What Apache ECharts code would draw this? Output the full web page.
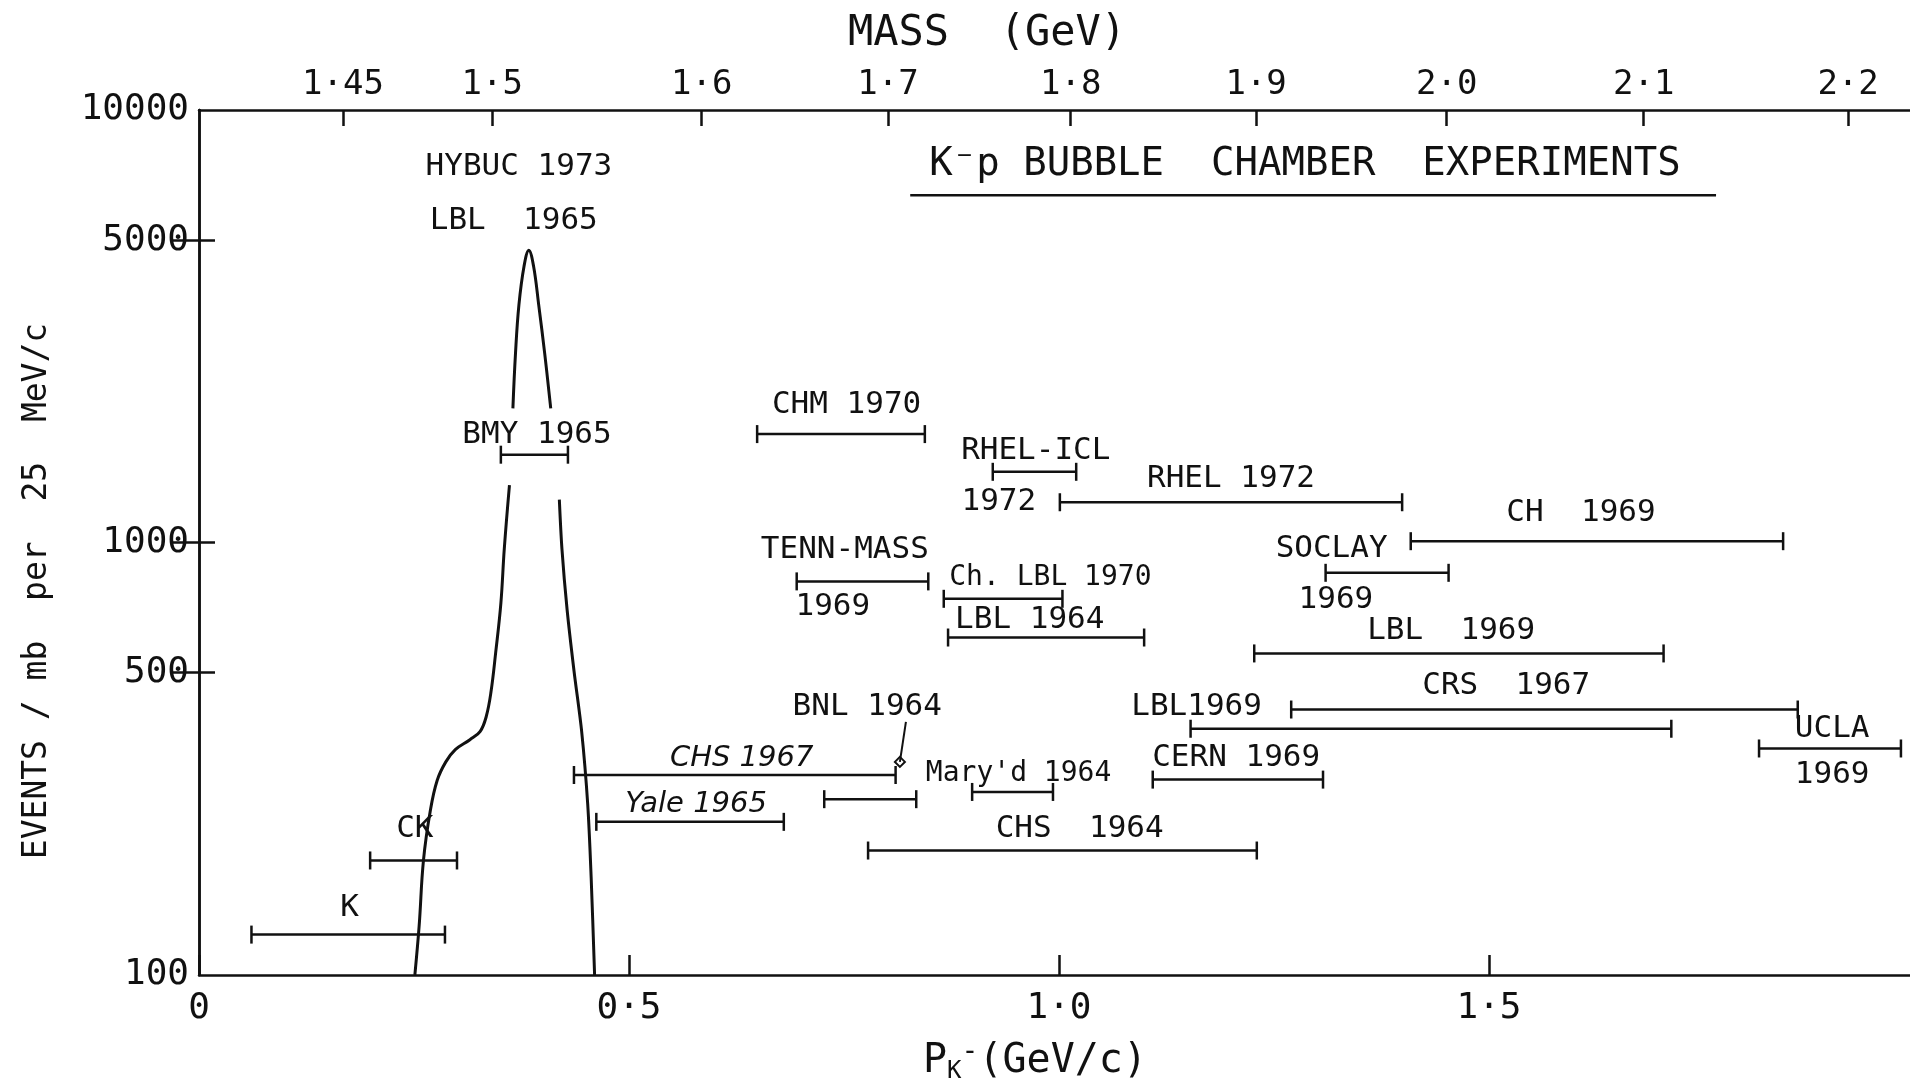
<!DOCTYPE html>
<html>
<head>
<meta charset="utf-8">
<script src="https://cdn.jsdelivr.net/npm/echarts@6/dist/echarts.min.js"></script>
<style>
  html, body { margin: 0; padding: 0; background: #fff; }
  #chart { width: 1910px; height: 1091px; }
</style>
</head>
<body>
<div id="chart"></div>
<script>
// momentum coverage of each K-p bubble chamber experiment (GeV/c) and its plotted height
const expNames = ['K', 'CK', 'BMY 1965', 'CHM 1970', 'RHEL-ICL 1972', 'RHEL 1972', 'CH 1969',
  'TENN-MASS 1969', 'SOCLAY 1969', 'Ch. LBL 1970', 'LBL 1964', 'LBL 1969 (a)', 'CRS 1967',
  'LBL 1969', 'UCLA 1969', 'CERN 1969', 'CHS 1967', 'BNL 1964', 'Yale 1965', "Mary'd 1964", 'CHS 1964']
const pLow  = [0.061, 0.199, 0.351, 0.649, 0.923, 1.001, 1.409, 0.695, 1.310, 0.866, 0.871, 1.227,
  1.270, 1.153, 1.814, 1.109, 0.436, 0.727, 0.462, 0.899, 0.778]
const pHigh = [0.286, 0.300, 0.429, 0.844, 1.020, 1.399, 1.842, 0.848, 1.453, 1.004, 1.099, 1.703,
  1.859, 1.712, 1.979, 1.307, 0.810, 0.834, 0.680, 0.993, 1.230]
const barEvents = [124, 184, 1596, 1781, 1457, 1239, 1007, 813, 851, 741, 603, 554,
  411, 371, 334, 283, 290, 255, 226, 265, 194]

// total cross-section curve (events / mb per 25 MeV/c)
const leftP   = [0.251, 0.256, 0.261, 0.269, 0.277, 0.287, 0.298, 0.315, 0.327, 0.334, 0.3395, 0.345, 0.351, 0.355, 0.361]
const leftEv  = [100, 130, 184, 240, 282, 311, 332, 350, 366, 396, 451, 557, 723, 968, 1357]
const topP    = [0.365, 0.368, 0.372, 0.378, 0.3835, 0.389, 0.395, 0.402, 0.409]
const topEv   = [2042, 2733, 3543, 4359, 4740, 4359, 3543, 2733, 2042]
const rightP  = [0.419, 0.422, 0.428, 0.436, 0.445, 0.452, 0.456, 0.460]
const rightEv = [1256, 968, 700, 506, 365, 248, 168, 100]

// lettered annotations, placed in data space
const noteTexts = ['K', 'CK', 'BMY 1965', 'HYBUC 1973', 'LBL  1965', 'CHM 1970', 'RHEL-ICL', '1972',
  'RHEL 1972', 'CH  1969', 'TENN-MASS', '1969', 'SOCLAY', '1969', 'Ch. LBL 1970', 'LBL 1964',
  'LBL  1969', 'CRS  1967', 'LBL1969', 'UCLA', '1969', 'CERN 1969', 'BNL 1964',
  "Mary'd 1964", 'CHS  1964']
const noteP  = [0.175, 0.251, 0.393, 0.372, 0.366, 0.753, 0.973, 0.930, 1.200, 1.607, 0.751, 0.737,
  1.317, 1.322, 0.990, 0.966, 1.456, 1.520, 1.160, 1.899, 1.899, 1.206, 0.777, 0.953, 1.024]
const noteEv = [143, 218, 1770, 7380, 5546, 2081, 1627, 1239, 1400, 1169, 962, 710, 968, 738, 828,
  661, 623, 465, 417, 371, 290, 317, 417, 292, 218]
// handwritten annotations
const handTexts = ['CHS 1967', 'Yale 1965']
const handP  = [0.631, 0.578]
const handEv = [317, 248]

const headerText = 'K\u207Bp BUBBLE  CHAMBER  EXPERIMENTS'
const headerP = 1.286, headerEv = 7470
const headerRule = [0.827, 1.764], headerRuleEv = 6350
const bnlPointer = [[0.822, 385], [0.815, 311]]

// top axis: invariant mass of K-p
const massTicks = [1.45, 1.5, 1.6, 1.7, 1.8, 1.9, 2.0, 2.1, 2.2]
const massLabels = ['1·45', '1·5', '1·6', '1·7', '1·8', '1·9', '2·0', '2·1', '2·2']
const bottomLabels = { 0: '0', 0.5: '0·5', 1: '1·0', 1.5: '1·5', 2: '2' }
const yLabelValues = [100, 500, 1000, 5000, 10000]
const yTickValues = [500, 1000, 5000]

const mK = 0.4937, mP = 0.9383
function massToP(m) {
  const e = (m * m - mK * mK - mP * mP) / (2 * mP)
  return Math.sqrt(e * e - mK * mK)
}
const massP = massTicks.map(massToP)

const font = 'DejaVu Sans Mono'
const ink = '#111'
const stroke = { color: ink, width: 2.5 }
const smallNotes = ['Ch. LBL 1970', "Mary'd 1964"]

const chart = echarts.init(document.getElementById('chart'))
chart.setOption({
  backgroundColor: '#fff',
  animation: false,
  textStyle: { fontFamily: font, color: ink },
  grid: { left: 199, top: 110, width: 1720, height: 865, containLabel: false, outerBoundsMode: 'none' },
  graphic: [{
    type: 'text', x: 37, y: 591, rotation: Math.PI / 2,
    style: { text: 'EVENTS / mb  per  25  MeV/c', font: '33px "DejaVu Sans Mono"', fill: ink,
      textAlign: 'center', textVerticalAlign: 'middle' }
  }, {
    type: 'text', x: 987, y: 34,
    style: { text: 'MASS  (GeV)', font: '42px "DejaVu Sans Mono"', fill: ink,
      textAlign: 'center', textVerticalAlign: 'middle' }
  }, {
    type: 'text', x: 1035, y: 1062,
    style: {
      text: '{p|P}{k|K}{m|-}{p|(GeV/c)}', textAlign: 'center', textVerticalAlign: 'middle',
      rich: {
        p: { fontSize: 40, fontFamily: font, fill: ink },
        k: { fontSize: 24, fontFamily: font, fill: ink, padding: [20, 0, 0, 0] },
        m: { fontSize: 28, fontFamily: font, fill: ink, padding: [0, 0, 18, 0] }
      }
    }
  }],
  xAxis: [{
    type: 'value', min: 0, max: 2, interval: 0.5, position: 'bottom',
    axisLine: { lineStyle: stroke },
    axisTick: { inside: true, length: 20, lineStyle: stroke },
    axisLabel: { fontSize: 36, color: ink, margin: 16, formatter: v => bottomLabels[v] ?? '' },
    splitLine: { show: false }
  }, {
    type: 'value', min: 0, max: 2, position: 'top',
    axisLine: { lineStyle: stroke },
    axisTick: { inside: true, length: 16, customValues: massP, lineStyle: stroke },
    axisLabel: { fontSize: 34, color: ink, margin: 8, customValues: massP,
      formatter: v => massLabels[massP.findIndex(p => Math.abs(p - v) < 1e-6)] ?? '' },
    splitLine: { show: false }
  }],
  yAxis: [{
    type: 'log', logBase: 10, min: 100, max: 10000,
    axisLine: { lineStyle: stroke },
    axisTick: { inside: true, length: 16, customValues: yTickValues, lineStyle: stroke },
    axisLabel: { fontSize: 36, color: ink, margin: 10, customValues: yLabelValues, formatter: v => String(v) },
    splitLine: { show: false }
  }, {
    type: 'log', logBase: 10, min: 100, max: 10000, position: 'right',
    axisLine: { show: true, lineStyle: stroke },
    axisTick: { show: true, inside: true, length: 26, customValues: yTickValues, lineStyle: stroke },
    axisLabel: { show: false },
    splitLine: { show: false }
  }],
  series: [
    {
      type: 'custom', name: 'experiments',
      data: expNames.map((n, i) => [pLow[i], pHigh[i], barEvents[i], n]),
      renderItem(params, api) {
        const a = api.coord([api.value(0), api.value(2)])
        const b = api.coord([api.value(1), api.value(2)])
        const h = 9
        const st = { stroke: ink, lineWidth: 2.5 }
        return { type: 'group', children: [
          { type: 'line', shape: { x1: a[0], y1: a[1], x2: b[0], y2: b[1] }, style: st },
          { type: 'line', shape: { x1: a[0], y1: a[1] - h, x2: a[0], y2: a[1] + h }, style: st },
          { type: 'line', shape: { x1: b[0], y1: b[1] - h, x2: b[0], y2: b[1] + h }, style: st }
        ] }
      },
      z: 3
    },
    {
      type: 'line', data: leftP.map((p, i) => [p, leftEv[i]]), smooth: 0.4,
      symbol: 'none', lineStyle: { color: ink, width: 3 }
    },
    {
      type: 'line', data: topP.map((p, i) => [p, topEv[i]]), smooth: 0.4,
      symbol: 'none', lineStyle: { color: ink, width: 3 }
    },
    {
      type: 'line', data: rightP.map((p, i) => [p, rightEv[i]]), smooth: 0.3,
      symbol: 'none', lineStyle: { color: ink, width: 3 }
    },
    {
      // same log scale as the left axis; keeps the right-hand axis active
      type: 'line', yAxisIndex: 1, data: headerRule.map(p => [p, headerRuleEv]),
      symbol: 'none', lineStyle: stroke
    },
    {
      type: 'line', data: bnlPointer, symbol: 'none', lineStyle: { color: ink, width: 2 }
    },
    {
      type: 'scatter', data: [bnlPointer[1]], symbol: 'diamond', symbolSize: 10,
      itemStyle: { color: '#fff', borderColor: ink, borderWidth: 2, opacity: 1 }
    },
    {
      type: 'scatter', symbolSize: 0, itemStyle: { opacity: 1 },
      data: noteTexts.map((t, i) => ({
        value: [noteP[i], noteEv[i]], name: t,
        label: smallNotes.includes(t) ? { fontSize: 28 } : undefined
      })).concat([{ value: [headerP, headerEv], name: headerText, label: { fontSize: 39 } }]),
      label: { show: true, position: 'inside', formatter: p => p.name, fontSize: 31, color: ink, fontFamily: font },
      z: 5
    },
    {
      type: 'scatter', symbolSize: 0, itemStyle: { opacity: 1 },
      data: handTexts.map((t, i) => ({ value: [handP[i], handEv[i]], name: t })),
      label: { show: true, position: 'inside', formatter: p => p.name, fontSize: 29, color: ink,
        fontFamily: 'DejaVu Sans', fontStyle: 'italic' },
      z: 5
    }
  ]
})
</script>
</body>
</html>
